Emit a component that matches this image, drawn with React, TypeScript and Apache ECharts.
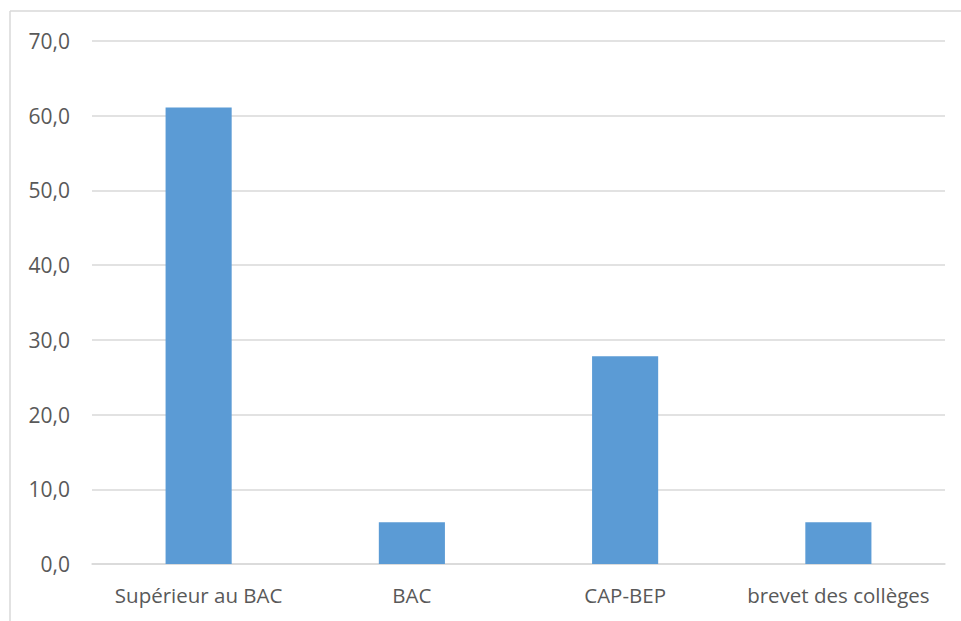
import React, { useEffect, useRef } from "react";
import * as echarts from "echarts";

const categories = ["Supérieur au BAC", "BAC", "CAP-BEP", "brevet des collèges"];
const values = [61.1, 5.6, 27.8, 5.6];
const yMin = 0;
const yMax = 70;
const yInterval = 10;

export default function App() {
  const ref = useRef<HTMLDivElement>(null);
  useEffect(() => {
    document.body.style.margin = "0";
    if (!ref.current) return;
    const chart = echarts.init(ref.current, null, { renderer: "svg" });
    const font = "Open Sans";
    chart.setOption({
      animation: false,
      backgroundColor: "#ffffff",
      graphic: [
        { type: "line", shape: { x1: 10, y1: 11, x2: 961, y2: 11 }, style: { stroke: "#d9d9d9", lineWidth: 1.5 } },
        { type: "line", shape: { x1: 10, y1: 11, x2: 10, y2: 621 }, style: { stroke: "#d9d9d9", lineWidth: 1.5 } },
      ],
      grid: { left: 92, right: 16, top: 41, bottom: 57, containLabel: false },
      xAxis: {
        type: "category",
        data: categories,
        axisLine: { show: true, lineStyle: { color: "#d9d9d9", width: 1.5 } },
        axisTick: { show: false },
        axisLabel: { color: "#595959", fontFamily: font, fontSize: 20.5, margin: 20, interval: 0 },
      },
      yAxis: {
        type: "value",
        min: yMin,
        max: yMax,
        interval: yInterval,
        axisLine: { show: false },
        axisTick: { show: false },
        splitLine: { lineStyle: { color: "#d9d9d9", width: 1.5 } },
        axisLabel: {
          color: "#595959",
          fontFamily: font,
          fontSize: 21,
          margin: 22,
          formatter: (v: number) => v.toFixed(1).replace(".", ","),
        },
      },
      series: [
        {
          type: "bar",
          data: values,
          barWidth: "31%",
          itemStyle: { color: "#5b9bd5" },
        },
      ],
    });
    return () => chart.dispose();
  }, []);
  return <div ref={ref} style={{ width: 961, height: 621 }} />;
}
